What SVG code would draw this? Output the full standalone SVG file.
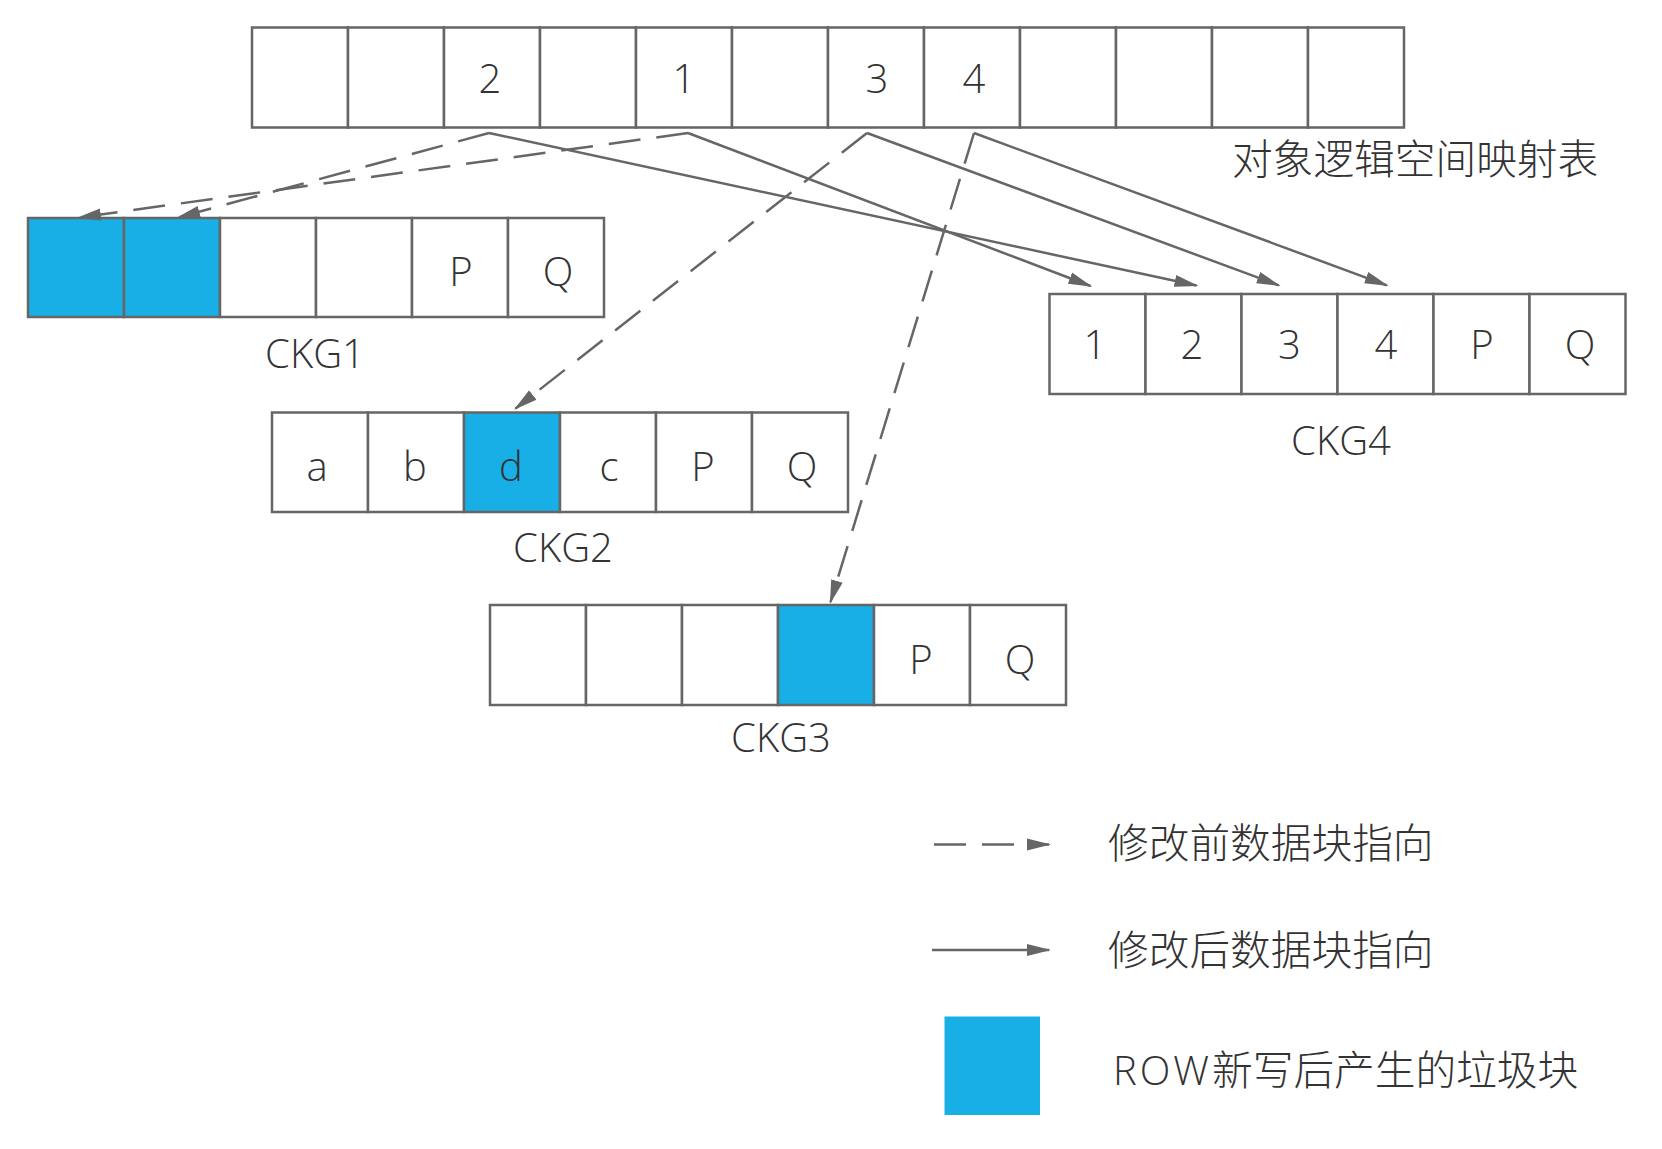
<svg xmlns="http://www.w3.org/2000/svg" width="1662" height="1149" viewBox="0 0 1662 1149">
<defs>
<style>
.c{fill:#fff;stroke:#666;stroke-width:2.5}
.b{fill:#17afe6;stroke:#666;stroke-width:2.5}
.t{font-family:"Open Sans","Noto Sans CJK SC",sans-serif;font-size:40px;font-weight:300;fill:#333;text-anchor:middle}
.z{font-family:"Noto Sans CJK SC","Open Sans",sans-serif;font-size:40.7px;font-weight:300;fill:#333}
.s{fill:none;stroke:#666;stroke-width:2.5}
.d{fill:none;stroke:#666;stroke-width:2.5;stroke-dasharray:32 16}
</style>
<marker id="ah" markerUnits="userSpaceOnUse" viewBox="0 0 24 14" markerWidth="24" markerHeight="14" refX="22" refY="7" orient="auto">
<path d="M0,1 L24,7 L0,13 z" fill="#666"/>
</marker>
</defs>
<rect width="1662" height="1149" fill="#fff"/>
<g id="map">
<rect class="c" x="252" y="27.5" width="96" height="100"/>
<rect class="c" x="348" y="27.5" width="96" height="100"/>
<rect class="c" x="444" y="27.5" width="96" height="100"/>
<rect class="c" x="540" y="27.5" width="96" height="100"/>
<rect class="c" x="636" y="27.5" width="96" height="100"/>
<rect class="c" x="732" y="27.5" width="96" height="100"/>
<rect class="c" x="828" y="27.5" width="96" height="100"/>
<rect class="c" x="924" y="27.5" width="96" height="100"/>
<rect class="c" x="1020" y="27.5" width="96" height="100"/>
<rect class="c" x="1116" y="27.5" width="96" height="100"/>
<rect class="c" x="1212" y="27.5" width="96" height="100"/>
<rect class="c" x="1308" y="27.5" width="96" height="100"/>
<text class="t" x="490" y="92.5">2</text>
<text class="t" x="684" y="92.5">1</text>
<text class="t" x="877" y="92.5">3</text>
<text class="t" x="974" y="92.5">4</text>
<text class="z" x="1232" y="174">对象逻辑空间映射表</text>
</g>
<g id="ckg1">
<rect class="b" x="28" y="218" width="96" height="99"/>
<rect class="b" x="124" y="218" width="96" height="99"/>
<rect class="c" x="220" y="218" width="96" height="99"/>
<rect class="c" x="316" y="218" width="96" height="99"/>
<rect class="c" x="412" y="218" width="96" height="99"/>
<rect class="c" x="508" y="218" width="96" height="99"/>
<text class="t" x="461" y="286">P</text>
<text class="t" x="558" y="286">Q</text>
<text class="t" x="315" y="368">CKG1</text>
</g>
<g id="ckg2">
<rect class="c" x="272" y="412.5" width="96" height="99.5"/>
<rect class="c" x="368" y="412.5" width="96" height="99.5"/>
<rect class="b" x="464" y="412.5" width="96" height="99.5"/>
<rect class="c" x="560" y="412.5" width="96" height="99.5"/>
<rect class="c" x="656" y="412.5" width="96" height="99.5"/>
<rect class="c" x="752" y="412.5" width="96" height="99.5"/>
<text class="t" x="317" y="480.5">a</text>
<text class="t" x="415" y="480.5">b</text>
<text class="t" x="511" y="480.5">d</text>
<text class="t" x="609" y="480.5">c</text>
<text class="t" x="703" y="480.5">P</text>
<text class="t" x="802" y="480.5">Q</text>
<text class="t" x="563" y="561.5">CKG2</text>
</g>
<g id="ckg3">
<rect class="c" x="490" y="605" width="96" height="100"/>
<rect class="c" x="586" y="605" width="96" height="100"/>
<rect class="c" x="682" y="605" width="96" height="100"/>
<rect class="b" x="778" y="605" width="96" height="100"/>
<rect class="c" x="874" y="605" width="96" height="100"/>
<rect class="c" x="970" y="605" width="96" height="100"/>
<text class="t" x="921" y="674">P</text>
<text class="t" x="1020" y="674">Q</text>
<text class="t" x="781" y="751.5">CKG3</text>
</g>
<g id="ckg4">
<rect class="c" x="1049.5" y="294" width="96" height="100"/>
<rect class="c" x="1145.5" y="294" width="96" height="100"/>
<rect class="c" x="1241.5" y="294" width="96" height="100"/>
<rect class="c" x="1337.5" y="294" width="96" height="100"/>
<rect class="c" x="1433.5" y="294" width="96" height="100"/>
<rect class="c" x="1529.5" y="294" width="96" height="100"/>
<text class="t" x="1095" y="358.5">1</text>
<text class="t" x="1192" y="358.5">2</text>
<text class="t" x="1289.5" y="358.5">3</text>
<text class="t" x="1386" y="358.5">4</text>
<text class="t" x="1482" y="358.5">P</text>
<text class="t" x="1580" y="358.5">Q</text>
<text class="t" x="1341" y="455">CKG4</text>
</g>
<g id="connectors">
<line class="d" x1="489" y1="133" x2="178" y2="217.5" marker-end="url(#ah)"/>
<line class="d" x1="688" y1="133" x2="79" y2="217.5" marker-end="url(#ah)"/>
<line class="d" x1="867" y1="133" x2="515.5" y2="408.5" marker-end="url(#ah)"/>
<line class="d" x1="974" y1="133" x2="830.5" y2="602" marker-end="url(#ah)"/>
<line class="s" x1="489" y1="133" x2="1196.5" y2="285.5" marker-end="url(#ah)"/>
<line class="s" x1="688" y1="133" x2="1090.5" y2="286" marker-end="url(#ah)"/>
<line class="s" x1="867" y1="133" x2="1278.8" y2="285.3" marker-end="url(#ah)"/>
<line class="s" x1="974" y1="133" x2="1386.8" y2="285.3" marker-end="url(#ah)"/>
</g>
<g id="legend">
<line class="d" x1="934" y1="844.5" x2="1049" y2="844.5" marker-end="url(#ah)"/>
<text class="z" x="1108" y="858">修改前数据块指向</text>
<line class="s" x1="932" y1="950" x2="1049" y2="950" marker-end="url(#ah)"/>
<text class="z" x="1108" y="965">修改后数据块指向</text>
<rect x="944.5" y="1016.5" width="95.5" height="98.5" fill="#17afe6"/>
<text class="z" x="1113" y="1085"><tspan font-family="Open Sans, sans-serif" font-size="40px" letter-spacing="3">ROW</tspan>新写后产生的垃圾块</text>
</g>
</svg>
